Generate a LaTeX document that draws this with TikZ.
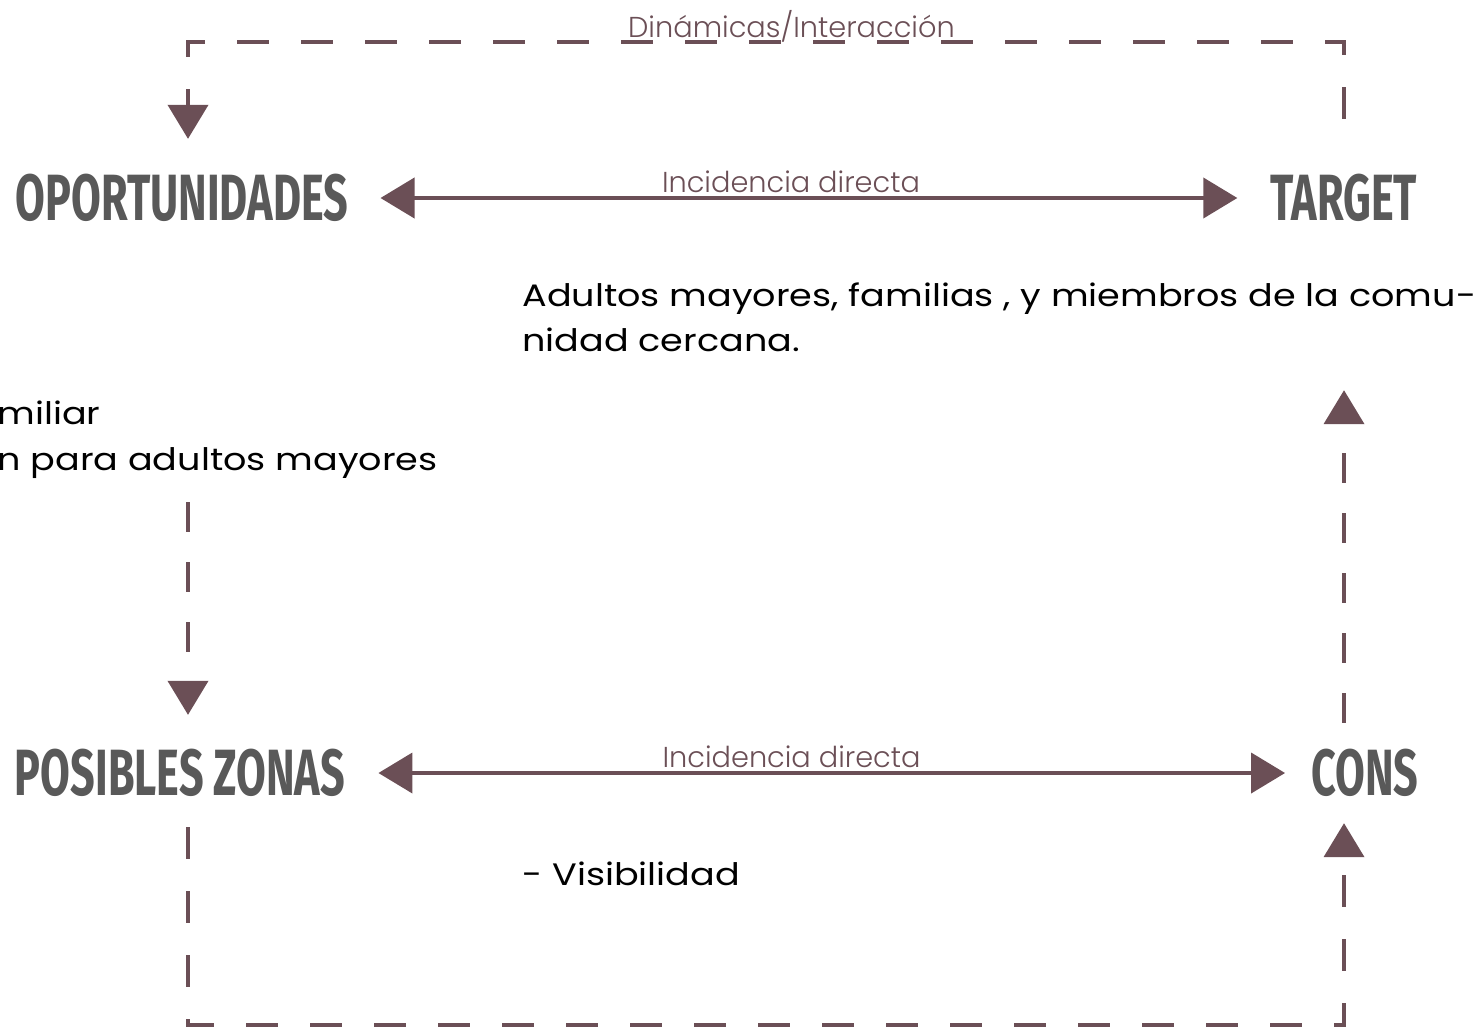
\documentclass[tikz,border=0pt]{standalone}
\usepackage{fontspec}
\setmainfont{Poppins}[FakeStretch=1.18]
\newfontfamily\headfont{Fira Sans}[FakeStretch=0.66]
\newfontfamily\thinfont{Poppins Light}
\usetikzlibrary{arrows.meta}
\usetikzlibrary{calc}
\definecolor{linkline}{HTML}{6B4F56}
\definecolor{headgray}{HTML}{595959}
\tikzset{
    heading/.style={inner sep=0pt, text=headgray, font=\headfont\bfseries\fontsize{32.7}{34}\selectfont},
    note/.style={inner sep=0pt, align=left, font=\fontsize{15.5}{22.5}\selectfont},
    linklabel/.style={inner sep=0pt, text=linkline, font=\thinfont\fontsize{14.4}{16}\selectfont},
    solidlink/.style={draw=linkline, line width=2pt, {Triangle[length=17pt,width=20pt]}-{Triangle[length=17pt,width=20pt]}},
    dashlink/.style={draw=linkline, line width=2pt, dash pattern=on 15pt off 15pt, -{Triangle[length=17pt,width=20pt]}},
    looplink/.style={dashlink, dash pattern=on 16pt off 16pt}
}

\begin{document}
\begin{tikzpicture}[x=0.5pt,y=-0.5pt]
        \useasboundingbox (0,0) rectangle (1481,1028);

        % headings
        \node[heading] (opp)    at (182,198)  {OPORTUNIDADES};
        \node[heading] (target) at (1344,198) {TARGET};
        \node[heading] (zonas)  at (180,773)  {POSIBLES ZONAS};
        \node[heading] (cons)   at (1365,773) {CONS};

        % notes
        \node[note, anchor=north west] (targetnote) at (522,282) {Adultos mayores, familias , y miembros de la comu-\\nidad cercana.};
        \node[note, anchor=north west] (oppnote) at (-3,401) {miliar\\n para adultos mayores};
        \node[note, anchor=base west] (consnote) at (522,885) {- Visibilidad};

        % columns and corners of the dashed loop
        \coordinate (lcol) at (188,0);
        \coordinate (rcol) at (1344,0);
        \coordinate (topleft)  at (188,42);
        \coordinate (topright) at (1344,42);
        \coordinate (botleft)  at (188,1025);
        \coordinate (botright) at (1344,1025);

        % direct links
        \draw[solidlink, shorten <=16pt, shorten >=16.5pt] (opp) -- node[linklabel, pos=0.48, anchor=base, yshift=3pt] {Incidencia directa} (target);
        \draw[solidlink, shorten <=16.5pt, shorten >=13pt] (zonas) -- node[linklabel, pos=0.462, anchor=base, yshift=3pt] {Incidencia directa} (cons);

        % dashed loop
        \draw[looplink, dash phase=22pt, shorten <=17.5pt, shorten >=17.5pt] (rcol |- target.north) -- (topright)
            -- node[linklabel, pos=0.478, anchor=base, yshift=2.5pt] {Dinámicas/Interacción} (topleft)
            -- (lcol |- opp.north);
        \draw[dashlink, shorten <=12pt, shorten >=17pt] (lcol |- oppnote.south) -- (lcol |- zonas.north);
        \draw[looplink, dash phase=30pt, shorten <=13pt, shorten >=13pt] (lcol |- zonas.south) -- (botleft) -- (botright) -- (rcol |- cons.south);
        \draw[dashlink, shorten <=13pt, shorten >=84pt] (rcol |- cons.north) -- (rcol |- target.south);
    \end{tikzpicture}
\end{document}
